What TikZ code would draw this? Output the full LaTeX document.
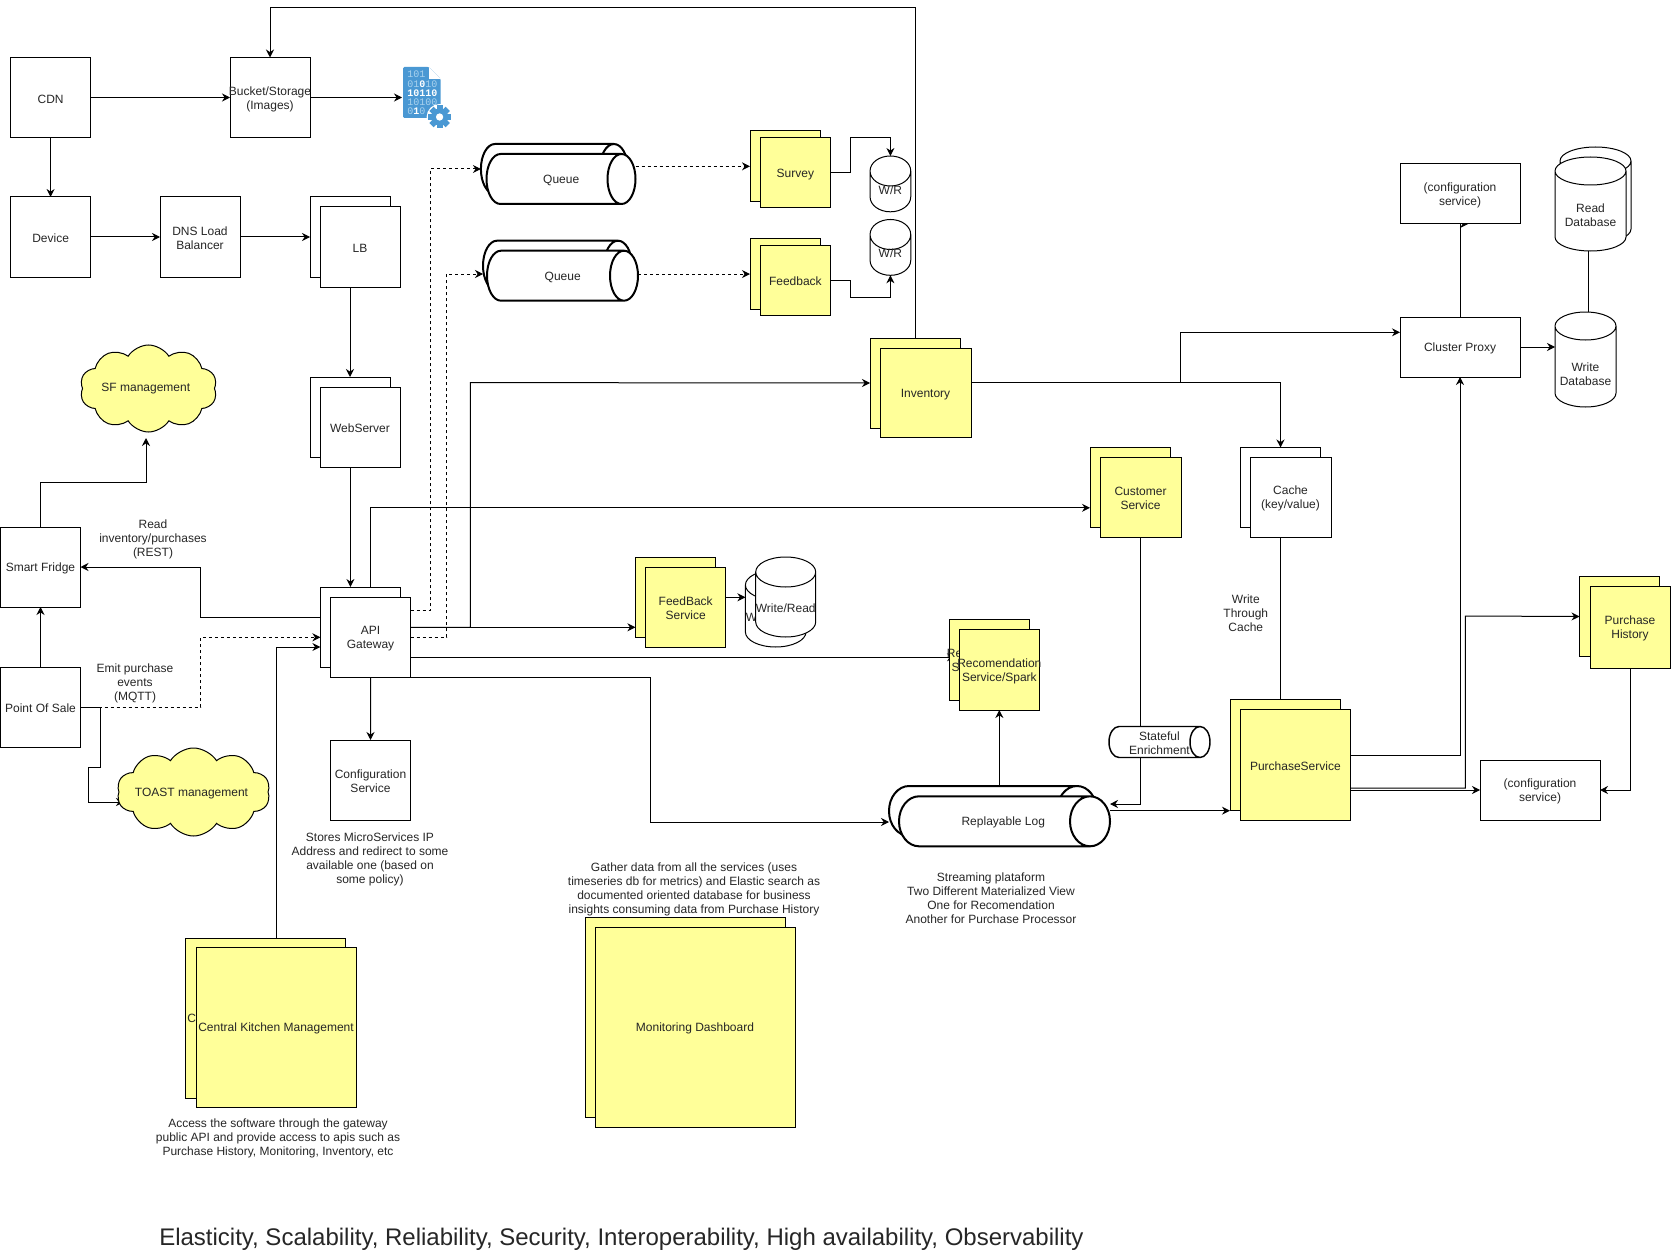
\documentclass[tikz,border=0pt]{standalone}
\usepackage{fontspec}
\setmainfont{Liberation Sans}
\newfontfamily\iconmono{Liberation Mono}
\usetikzlibrary{arrows.meta,positioning,backgrounds,shapes.geometric,shapes.symbols}
\definecolor{cNote}{HTML}{FFFF99}
\definecolor{cInk}{HTML}{262626}
\definecolor{cIcon}{HTML}{4A98D3}
\definecolor{cBit}{HTML}{A9D2EE}
\newcommand{\fl}{\rule{0pt}{8.8pt}}
\tikzset{
  >={Stealth[length=6pt,width=6pt]},
  txt/.style   ={font=\fontsize{9}{10.5}\selectfont,text=cInk,align=center,inner sep=0pt,
                 execute at begin node={\rule{0pt}{8.8pt}}},
  every label/.style={txt},
  box/.style 2 args={draw=black,fill=white,txt,anchor=north west,outer sep=0pt,line width=.75pt,
                 minimum width=#1*.75pt,minimum height=#2*.75pt},
  note/.style 2 args={box={#1}{#2},fill=cNote},
  cyl/.style 2 args={cylinder,shape border rotate=90,anchor=shape center,draw=black,fill=white,
                 line width=.75pt,inner sep=11.25pt,outer sep=0pt,aspect=1,
                 minimum width=#1*.75pt,minimum height=#2*.75pt},
  pipe/.style 2 args={cylinder,anchor=shape center,draw=black,fill=white,line width=1.5pt,
                 inner sep=10.5pt,outer sep=0pt,aspect=1,
                 minimum width=#1*.75pt,minimum height=#2*.75pt},
  puff/.style 2 args={cloud,cloud puffs=10,cloud puff arc=115,aspect=1.6,draw=black,fill=cNote,
                 line width=.75pt,inner sep=0pt,outer sep=0pt,
                 minimum width=#1*.75pt,minimum height=#2*.75pt},
  ar/.style    ={->,line width=.75pt,black},
  pl/.style    ={line width=.75pt,black},
  dar/.style   ={ar,dash pattern=on 2.25pt off 2.25pt},
}
\begin{document}
\begin{tikzpicture}[x=.75pt,y=-.75pt]
\useasboundingbox (0,0) rectangle (1671,1252);

% left column: edge and entry
\node[box={80}{80}] (cdn) at (10.6,57.5) {CDN};
\node[box={80}{80}] (bucket) at (230,57.5) {\fl\makebox[0pt]{Bucket/Storage}\\(Images)};
\node[box={80}{80}] (device) at (10.6,197) {Device};
\node[box={80}{80}] (dns) at (160,197) {\fl DNS Load\\Balancer};
\node[box={80}{80}] (lbB) at (310,197) {};
\node[box={80}{80}] (lbF) at (320,207) {LB};
\node[box={80}{80}] (webB) at (310,377) {};
\node[box={80}{80}] (webF) at (320,387) {WebServer};
\node[box={80.3}{80}] (apiB) at (320.4,587) {};
\node[box={80.3}{80}] (apiF) at (330.4,597) {\fl API\\Gateway};
\node[box={80}{80}] (fridge) at (.5,527) {Smart Fridge};
\node[box={80}{80}] (pos) at (.5,667) {Point Of Sale};
\node[box={80}{80}] (cfg) at (330.5,740) {\fl Configuration\\Service};
\node[puff={137}{87},label={[xshift=-2pt,yshift=1.5pt]center:{SF management}}] (sfm) at (148.5,388.5) {};
\node[puff={153}{88},label={[xshift=-1.5pt]center:{TOAST management}}] (toast) at (193.5,792) {};
\coordinate (sfIn) at (146,438);
\coordinate (toastIn) at (124,802);

% file icon next to the bucket
\fill[cIcon,rounded corners=1pt] (403,67) -- (429,67) -- (440.7,79) -- (440.7,118) -- (403,118) -- cycle;
\fill[white] (429,67) -- (429,79) -- (440.7,79) -- cycle;
\node[font=\iconmono\fontsize{7.5}{6.9}\selectfont,text=cBit,align=left,inner sep=0pt,anchor=north west] (bits) at (407,71)
  {101\\01\textcolor{white}{\bfseries 0}10\\\textcolor{white}{\bfseries 10110}\\10100\\0\textcolor{white}{\bfseries 1}0};
\fill[white] (439.6,117) circle (13);
\foreach \a in {0,45,...,315}
  \fill[cIcon,rotate around={\a:(439.6,117)}] (436.6,105.5) rectangle (442.6,110);
\fill[cIcon,even odd rule] (439.6,117) circle (8.5) (439.6,117) circle (3.8);
\coordinate (icon) at (402,97.5);

% queues and small services
\node[pipe={50}{147}] (q1B) at (554.4,169) {};
\node[pipe={50}{149},label={[xshift=10.5pt]center:{Queue}}] (q1F) at (561,179) {};
\node[pipe={50}{149}] (q2B) at (557.5,265.7) {};
\node[pipe={50}{151},label={[xshift=10.5pt]center:{Queue}}] (q2F) at (562.5,275.7) {};
\node[note={70.7}{70.7}] (survB) at (750,131) {};
\node[note={70.7}{70}] (survF) at (760,138) {Survey};
\node[note={70.7}{70.7}] (fbkB) at (750,238.7) {};
\node[note={70.7}{70}] (fbkF) at (760,245) {Feedback};
\node[cyl={40.7}{53.7},inner sep=9pt,aspect=1.25,label={[yshift=7.5pt]center:{W/R}}] (wr1) at (890.4,183.9) {};
\node[cyl={40.7}{53.3},inner sep=9pt,aspect=1.25,label={[yshift=7.5pt]center:{W/R}}] (wr2) at (890.4,247.4) {};
\node[note={90}{90}] (invB) at (870,338) {};
\node[note={91}{89}] (invF) at (880,348) {Inventory};

% middle row
\node[note={80.3}{80}] (fsB) at (635.4,557) {};
\node[note={80}{80}] (fsF) at (645.7,567) {\fl FeedBack\\Service};
\node[cyl={60.6}{77},label={[yshift=5.45pt]center:{Write/Read}}] (wrB) at (775.7,608.5) {};
\node[cyl={60}{80},label={[yshift=3.75pt]center:{Write/Read}}] (wrF) at (785.7,597) {};
\node[note={80}{81}] (recB) at (949,619) {\fl\makebox[0pt]{Recomendation}\\Service/Spark};
\node[note={80.7}{81}] (recF) at (959,629) {\fl\makebox[0pt]{Recomendation}\\Service/Spark};
\node[note={80}{80}] (custB) at (1090,447.5) {};
\node[note={81}{80}] (custF) at (1100,457) {\fl Customer\\Service};
\node[box={80}{80}] (cacheB) at (1240.5,447.5) {};
\node[box={81}{80}] (cacheF) at (1250,457) {\fl Cache\\(key/value)};
\node[note={110.7}{111}] (psB) at (1230,699) {};
\node[note={110.7}{111}] (psF) at (1240,709) {PurchaseService};
\node[pipe={31}{101},line width=1.1pt,inner sep=7.5pt,label={[xshift=7.5pt]center:{\fl Stateful\\Enrichment}}] (sten) at (1159.5,742) {};
\node[pipe={50}{208},inner sep=15pt] (rlB) at (993,811) {};
\node[pipe={50}{211},inner sep=15pt,label={[xshift=14.3pt]center:{Replayable Log}}] (rlF) at (1004.5,821.3) {};

% right column: proxy and databases
\node[box={120}{60}] (cfgT) at (1400,164) {\fl(configuration\\service)};
\node[box={120}{60}] (proxy) at (1400,317) {Cluster Proxy};
\node[box={120}{60}] (cfgB) at (1480,760) {\fl(configuration\\service)};
\node[cyl={71}{96},inner sep=10.5pt] (rdB) at (1595.5,195) {};
\node[cyl={71}{94},inner sep=10.5pt,label={[yshift=.9pt]center:{Read\\Database}}] (rdF) at (1590.5,204) {};
\node[cyl={61}{95},inner sep=10.5pt,label={[yshift=-.9pt]center:{Write\\Database}}] (wrD) at (1585.5,359.5) {};
\node[note={80}{80}] (phB) at (1579.5,576.5) {};
\node[note={80}{82}] (phF) at (1590,586) {\fl Purchase\\History};

% large blocks at the bottom
\node[note={160}{160}] (kitB) at (185,938) {Central Kitchen Management};
\node[note={160}{160}] (kitF) at (196,947) {Central Kitchen Management};
\node[note={200}{200}] (monB) at (585,917) {};
\node[note={200}{200}] (monF) at (595,927) {Monitoring Dashboard};

% free labels
\node[txt] (lRest) at (153,539.3) {Read\\inventory/purchases\\(REST)};
\node[txt] (lMqtt) at (135,683.3) {Emit purchase\\events\\(MQTT)};
\node[txt] (lCache) at (1245.8,613) {Write\\Through\\Cache};
\node[txt] (lStores) at (370,859.1) {Stores MicroServices IP\\Address and redirect to some\\available one (based on\\some policy)};
\node[txt] (lGather) at (694,889.1) {Gather data from all the services (uses\\timeseries db for metrics) and Elastic search as\\documented oriented database for business\\insights consuming data from Purchase History};
\node[txt] (lStream) at (991,898) {Streaming plataform\\Two Different Materialized View\\One for Recomendation\\Another for Purchase Processor};
\node[txt] (lAccess) at (278,1138.6) {Access the software through the gateway\\public API and provide access to apis such as\\Purchase History, Monitoring, Inventory, etc};
\node[txt,font=\fontsize{18}{20}\selectfont,anchor=west] (lQual) at (159,1239) {Elasticity, Scalability, Reliability, Security, Interoperability, High availability, Observability};

\begin{scope}[on background layer]
\draw[ar] (cdn)--(bucket);
\draw[ar] (cdn)--(device);
\draw[ar] (bucket)--(icon);
\draw[ar] (915.5,0 |- invB.north)--(915.5,7.5) -| (bucket.north);
\draw[ar] (device)--(dns);
\draw[ar] (dns)--(lbB);
\draw[ar] (webB.north |- lbF.south)--(webB.north);
\draw[ar] (350.4,0 |- webF.south)--(350.4,0 |- apiB.north);

% gateway fan-out
\draw[ar] (apiB.west |- 0,617) -| (200.7,567)--(fridge.east);
\draw[ar] (apiF.north) |- (custB.west |- 0,507.8);
\draw[ar] (apiF.east |- 0,627.3) -| (470.4,382.6)--(invB.west);
\draw[ar] (apiF.east |- 0,627.3)--(fsB.west |- 0,627.3);
\draw[ar] (fsF.east |- 0,597.3)--(wrB.west |- 0,597.3);
\draw[ar,shorten >=-4.5pt] (apiF.east |- 0,657.3)--(recB.west |- 0,657.3);
\draw[ar] (apiF.south east)--(650.7,677) |- (rlB.west |- 0,822);
\draw[ar] (apiF.south)--(cfg.north);
\draw[dar] (apiF.east |- 0,610.7) -| (430.4,169)--(q1B.west);
\draw[dar] (apiF.east |- 0,637.3) -| (446.8,274)--(q2B.west |- 0,274);
\draw[dar] (q1F.east |- survB.west)--(survB.west);
\draw[dar] (q2F.east |- fbkB.west)--(fbkB.west);
\draw[ar] (survF.east) -| (850.7,137.7) -| (wr1.north);
\draw[ar] (fbkF.east) -| (850.7,297.3) -| (wr2.south);

% inventory, cache, proxy
\draw[ar] (invF.east |- 0,382.6) -| (cacheB.north);
\draw[ar] (1180,382.6) |- (proxy.west |- 0,332.3);
\draw[ar] (proxy.east)--(wrD.west |- proxy.east);
\draw[pl] (1588,0 |- rdF.south)--(1588,0 |- wrD.north);
\draw[ar] (proxy.north)--(cfgT.south)-- ++(8,0);
\draw[pl] (cacheB.north |- cacheF.south)--(cacheB.north |- psB.north);

% purchase flow
\draw[ar] (psF.east |- 0,755) -| (proxy.south);
\draw[ar] (psF.east |- 0,788) -| (1465.4,616)--(phB.west);
\draw[ar] (psF.east |- cfgB.west)--(cfgB.west);
\draw[ar] (phF.south) |- (cfgB.east);
\draw[ar] (custF.south) |- (rlF.east |- 0,804);
\draw[ar] (rlF.east |- 0,810.7)--(psB.west |- 0,810.7);
\draw[ar] (recF.south |- rlF.north)--(recF.south);

% fridge and point of sale
\draw[ar] (pos)--(fridge);
\draw[dar] (pos.east) -| (200.7,637.3)--(apiB.west |- 0,637.3);
\draw[ar] (pos.east) -| (100.5,767) -| (88.5,802)--(toastIn);
\draw[ar] (fridge.north)-- ++(0,-45) -| (sfIn);
\draw[ar] (kitF.north) |- (apiB.west |- 0,647);
\end{scope}
\end{tikzpicture}
\end{document}
